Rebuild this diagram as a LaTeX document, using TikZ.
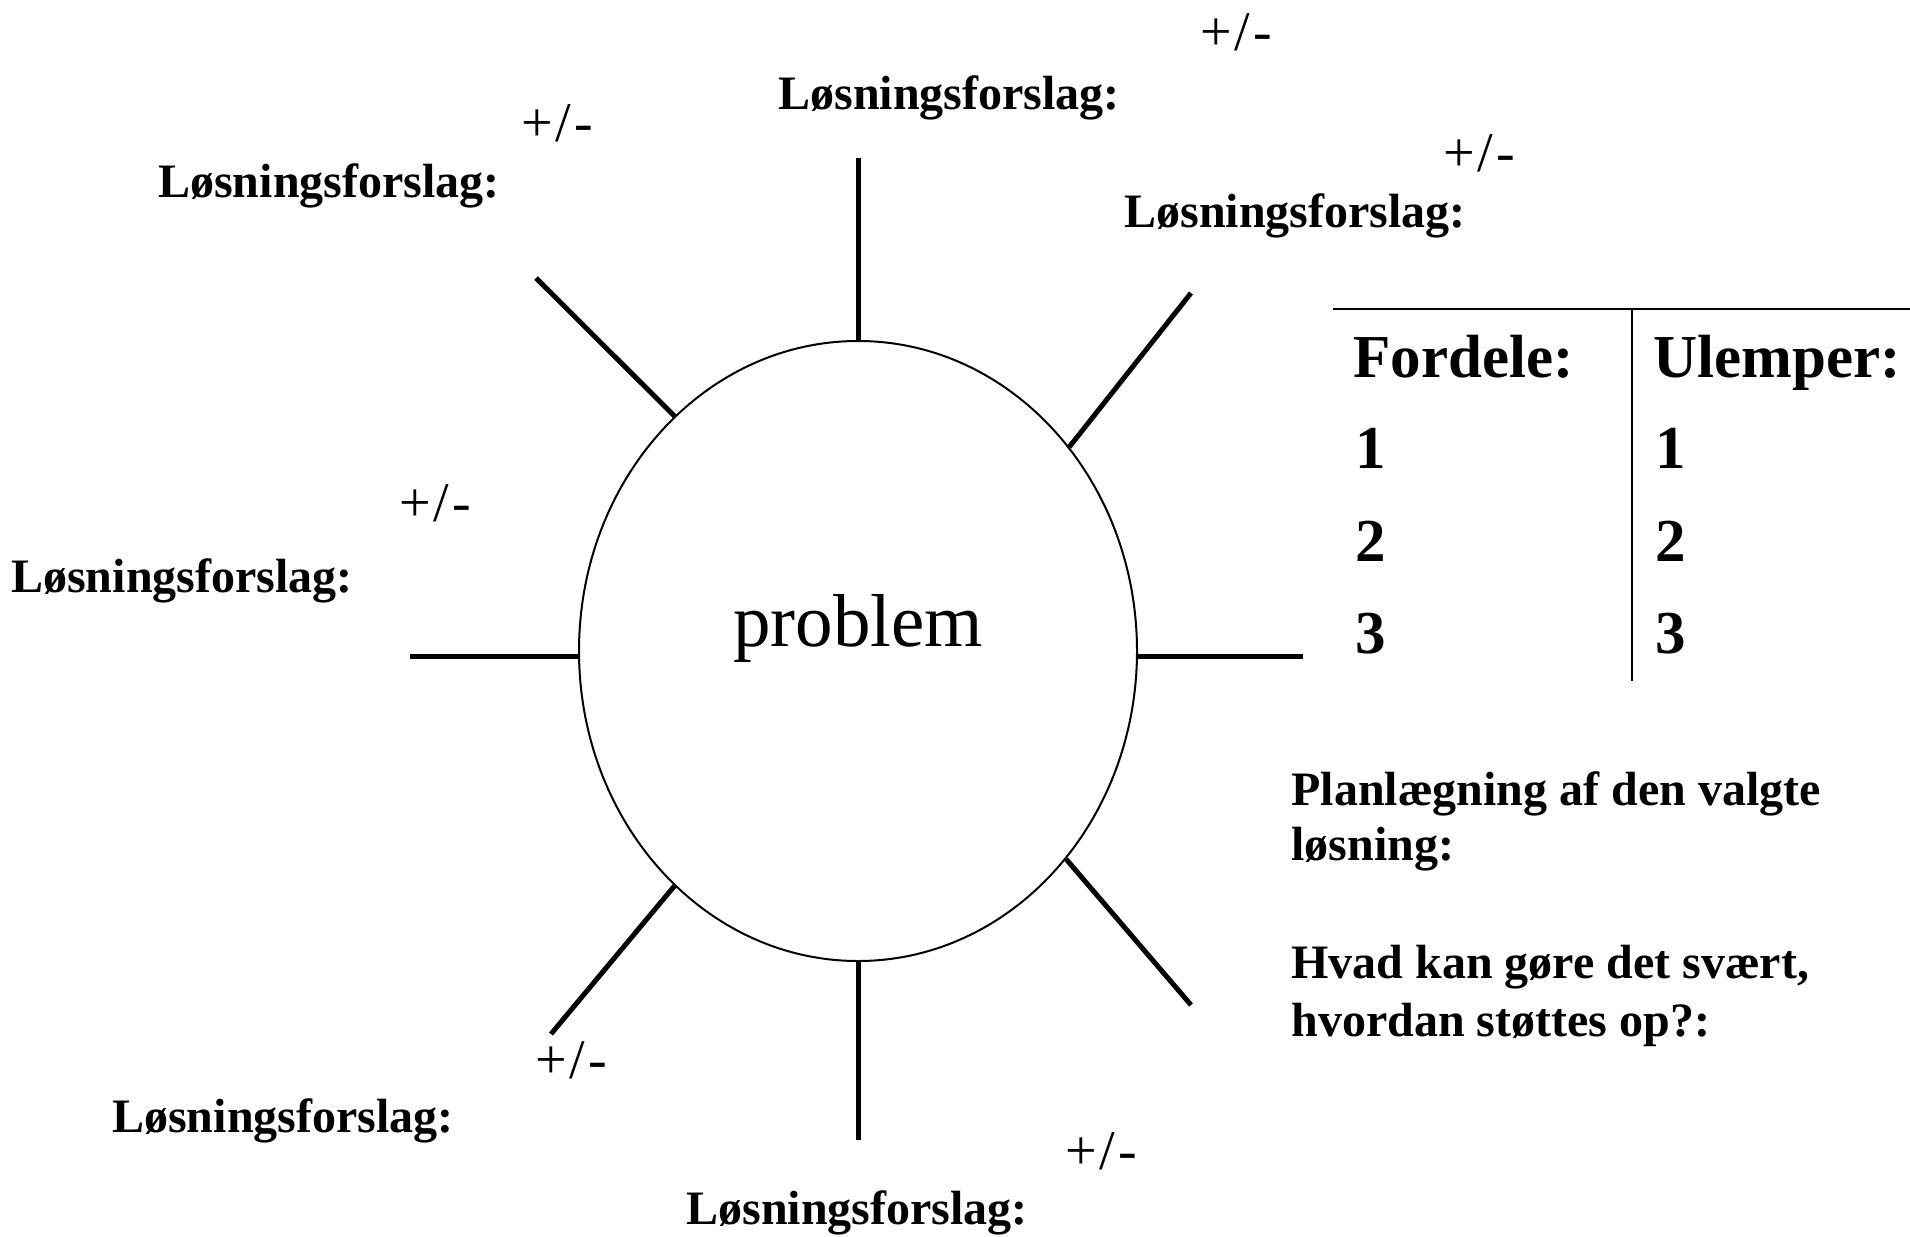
\documentclass[tikz,border=0pt]{standalone}
\usepackage{fontspec}
\setmainfont{Liberation Serif}
\usetikzlibrary{shapes.geometric}

\tikzset{
  spoke/.style={line width=2.5pt},
  sollabel/.style={font=\fontsize{24}{28}\selectfont\bfseries, anchor=base, inner sep=0pt},
  pmlabel/.style={font=\fontsize{28}{30}\selectfont, anchor=center, inner sep=0pt},
  tabtext/.style={font=\fontsize{30.5}{34}\selectfont\bfseries, anchor=base west, inner sep=0pt},
  plantext/.style={font=\fontsize{24}{30}\selectfont\bfseries, anchor=base west, inner sep=0pt},
  tabrule/.style={line width=1.25pt},
  tabsep/.style={line width=0.75pt}
}
\newcommand{\plusminus}{+\kern1.5pt/\kern1.5pt-}

\begin{document}
\begin{tikzpicture}[x=0.5pt,y=-0.5pt]
  \useasboundingbox (0,0) rectangle (1910,1236);

  % central problem ellipse
  \node[draw, ellipse, line width=1pt, minimum width=279pt, minimum height=310pt,
        inner sep=0pt] (prob) at (858,651) {};
  \node[font=\fontsize{37.5}{40}\selectfont, anchor=base, inner sep=0pt] (probtxt) at (858,646) {problem};

  % outer ends of the spokes
  \coordinate (oT)  at (858,158);
  \coordinate (oUL) at (536,278);
  \coordinate (oUR) at (1191,293);
  \coordinate (oL)  at (410,656);
  \coordinate (oR)  at (1303,656);
  \coordinate (oLL) at (551,1034);
  \coordinate (oB)  at (858,1140);
  \coordinate (oLR) at (1191,1005);

  \draw[spoke] (oT)  -- (prob.north);
  \draw[spoke] (oUL) -- (prob.128);
  \draw[spoke] (oUR) -- (prob.44.6);
  \draw[spoke] (oL)  -- (prob.west |- oL);
  \draw[spoke] (oR)  -- (prob.east |- oR);
  \draw[spoke] (oLL) -- (prob.232);
  \draw[spoke] (oB)  -- (prob.south);
  \draw[spoke] (oLR) -- (prob.315.7);

  % solution labels
  \node[sollabel] (sT)  at (949,110)  {Løsningsforslag:};
  \node[sollabel] (sUL) at (329,197)  {Løsningsforslag:};
  \node[sollabel] (sUR) at (1295,227) {Løsningsforslag:};
  \node[sollabel] (sL)  at (182,592)  {Løsningsforslag:};
  \node[sollabel] (sLL) at (283,1132) {Løsningsforslag:};
  \node[sollabel] (sB)  at (857,1224) {Løsningsforslag:};

  % plus/minus marks
  \node[pmlabel] (pT)  at (1236,32)   {\plusminus};
  \node[pmlabel] (pUL) at (557,123)   {\plusminus};
  \node[pmlabel] (pUR) at (1479,153)  {\plusminus};
  \node[pmlabel] (pL)  at (435,503)   {\plusminus};
  \node[pmlabel] (pLL) at (571,1060)  {\plusminus};
  \node[pmlabel] (pLR) at (1101,1151) {\plusminus};

  % pros and cons table
  \coordinate (hl) at (1333,309);
  \coordinate (hr) at (1910,309);
  \coordinate (vt) at (1632,309);
  \coordinate (vb) at (1632,681);
  \draw[tabrule] (hl) -- (hr);
  \draw[tabsep] (vt) -- (vb);

  \node[tabtext] (fordele) at (1353,377) {Fordele:};
  \node[tabtext] (ulemper) at (1653,377) {Ulemper:};
  \node[tabtext] (f1) at (1355,468) {1};
  \node[tabtext] (f2) at (1355,561) {2};
  \node[tabtext] (f3) at (1355,653) {3};
  \node[tabtext] (u1) at (1655,468) {1};
  \node[tabtext] (u2) at (1655,561) {2};
  \node[tabtext] (u3) at (1655,653) {3};

  % planning notes
  \node[plantext] (plan1) at (1291,805)  {Planlægning af den valgte};
  \node[plantext] (plan2) at (1291,860)  {løsning:};
  \node[plantext] (hard1) at (1291,978)  {Hvad kan gøre det svært,};
  \node[plantext] (hard2) at (1291,1036) {hvordan støttes op?:};
\end{tikzpicture}
\end{document}
